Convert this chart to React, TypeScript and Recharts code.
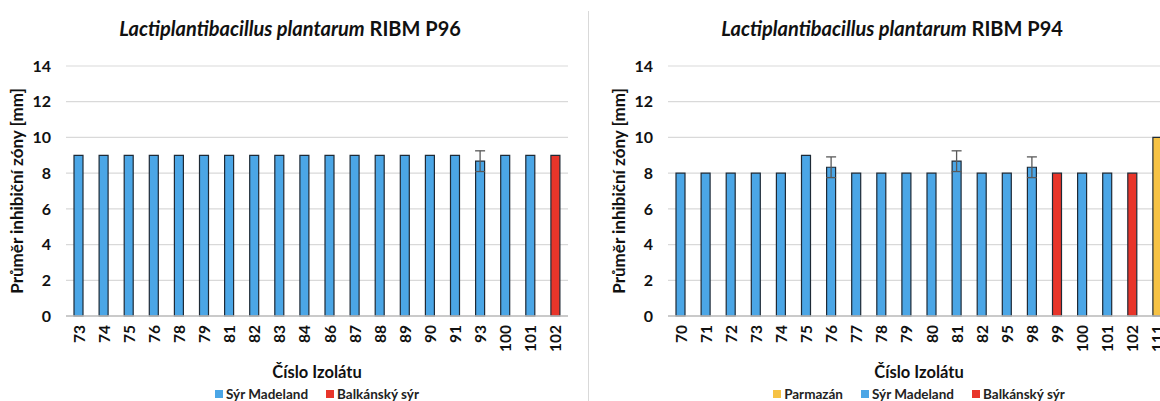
import React from 'react'
import { BarChart, Bar, XAxis, YAxis, CartesianGrid, Cell, ErrorBar } from 'recharts'

const FONT = 'Lato, "Open Sans", sans-serif'

const cheeseColors: Record<string, string> = {
  parma: '#F6C244',
  madeland: '#4BA6E6',
  balkan: '#E8352A',
}
const cheeseNames: Record<string, string> = {
  parma: 'Parmazán',
  madeland: 'Sýr Madeland',
  balkan: 'Balkánský sýr',
}

const yTicks = [0, 2, 4, 6, 8, 10, 12, 14]

// RIBM P96
const p96Ids = ['73', '74', '75', '76', '78', '79', '81', '82', '83', '84', '86', '87', '88', '89', '90', '91', '93', '100', '101', '102']
const p96Values = [9, 9, 9, 9, 9, 9, 9, 9, 9, 9, 9, 9, 9, 9, 9, 9, 8.67, 9, 9, 9]
const p96Err = [null, null, null, null, null, null, null, null, null, null, null, null, null, null, null, null, 0.58, null, null, null]
const p96Cheese = ['madeland', 'madeland', 'madeland', 'madeland', 'madeland', 'madeland', 'madeland', 'madeland', 'madeland', 'madeland', 'madeland', 'madeland', 'madeland', 'madeland', 'madeland', 'madeland', 'madeland', 'madeland', 'madeland', 'balkan']

// RIBM P94
const p94Ids = ['70', '71', '72', '73', '74', '75', '76', '77', '78', '79', '80', '81', '82', '95', '98', '99', '100', '101', '102', '111']
const p94Values = [8, 8, 8, 8, 8, 9, 8.33, 8, 8, 8, 8, 8.67, 8, 8, 8.33, 8, 8, 8, 8, 10]
const p94Err = [null, null, null, null, null, null, 0.58, null, null, null, null, 0.58, null, null, 0.58, null, null, null, null, null]
const p94Cheese = ['madeland', 'madeland', 'madeland', 'madeland', 'madeland', 'madeland', 'madeland', 'madeland', 'madeland', 'madeland', 'madeland', 'madeland', 'madeland', 'madeland', 'madeland', 'balkan', 'madeland', 'madeland', 'balkan', 'parma']

const build = (ids: string[], vals: number[], errs: (number | null)[], cheese: string[]) =>
  ids.map((id, i) => ({ id, value: vals[i], err: errs[i], cheese: cheese[i] }))

const XTick = ({ x, y, payload }: any) => {
  const ty = y + 9
  return (
    <text
      x={x} y={ty}
      transform={`rotate(-90 ${x} ${ty})`}
      textAnchor="end" dominantBaseline="central"
      fill="#111" fontSize={15.5} fontWeight={700} fontFamily={FONT}
    >{payload.value}</text>
  )
}

function Panel({ left, strain, data, legend }: {
  left: number; strain: string; data: ReturnType<typeof build>; legend: string[]
}) {
  return (
    <div style={{ position: 'absolute', left, top: 0, width: 590, height: 401, fontFamily: FONT }}>
      <div style={{
        position: 'absolute', left: 0, width: 580, top: 16, textAlign: 'center',
        fontSize: 20, lineHeight: '24px', fontWeight: 700, color: '#111', whiteSpace: 'nowrap',
      }}>
        <i>Lactiplantibacillus plantarum</i> {strain}
      </div>
      <BarChart width={590} height={401} data={data} margin={{ top: 66, right: 22, bottom: 0, left: 0 }}>
        <CartesianGrid vertical={false} stroke="#D9D9D9" strokeWidth={1.2} />
        <XAxis
          dataKey="id" interval={0} height={85}
          tick={<XTick />} tickLine={false} tickSize={0} tickMargin={0}
          axisLine={{ stroke: '#BFBFBF', strokeWidth: 1.5 }}
        />
        <YAxis
          width={66} domain={[0, 14]} ticks={yTicks} interval={0}
          axisLine={false} tickLine={false} tickSize={0} tickMargin={15}
          tick={{ fill: '#111', fontSize: 16, fontWeight: 700, fontFamily: FONT }}
          label={{
            value: 'Průměr inhibiční zóny [mm]', angle: -90, position: 'insideLeft', offset: 17,
            style: { textAnchor: 'middle', fill: '#111', fontSize: 17, fontWeight: 700, fontFamily: FONT },
          }}
        />
        <Bar dataKey="value" barSize={9} stroke="#1E2A36" strokeWidth={1.2} isAnimationActive={false}>
          {data.map((d, i) => <Cell key={i} fill={cheeseColors[d.cheese]} />)}
          <ErrorBar dataKey="err" direction="y" width={5} stroke="#595959" strokeWidth={1.3} />
        </Bar>
      </BarChart>
      <div style={{
        position: 'absolute', left: 66, width: 502, top: 362, textAlign: 'center',
        fontSize: 16.5, lineHeight: '20px', fontWeight: 700, color: '#111',
      }}>Číslo Izolátu</div>
      <div style={{
        position: 'absolute', left: 66, width: 502, top: 386, display: 'flex',
        justifyContent: 'center', gap: 18, fontSize: 13.5, lineHeight: '16px', fontWeight: 700, color: '#222',
      }}>
        {legend.map(k => (
          <span key={k} style={{ display: 'flex', alignItems: 'center' }}>
            <span style={{ width: 8, height: 8, background: cheeseColors[k], marginRight: 3 }} />
            {cheeseNames[k]}
          </span>
        ))}
      </div>
    </div>
  )
}

export default function App() {
  return (
    <div style={{ position: 'absolute', left: 0, top: 0, width: 1160, height: 401, overflow: 'hidden', background: '#fff' }}>
      <Panel left={0} strain="RIBM P96" data={build(p96Ids, p96Values, p96Err, p96Cheese)} legend={['madeland', 'balkan']} />
      <div style={{ position: 'absolute', left: 588, top: 11, width: 1, height: 390, background: '#D9D9D9' }} />
      <Panel left={602} strain="RIBM P94" data={build(p94Ids, p94Values, p94Err, p94Cheese)} legend={['parma', 'madeland', 'balkan']} />
    </div>
  )
}
